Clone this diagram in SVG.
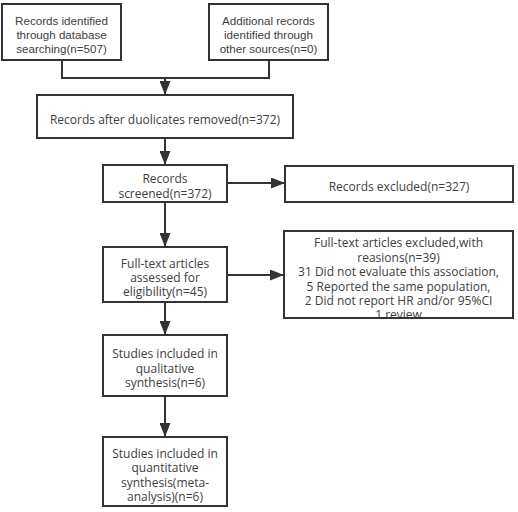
<svg xmlns="http://www.w3.org/2000/svg" width="518" height="512" viewBox="0 0 518 512">
<style>
.box{fill:#fff;stroke:#333;stroke-width:2}
.a{font-family:"Liberation Sans",Arial,sans-serif;font-size:11.6px;fill:#404040;text-anchor:middle}
.y{font-family:"Open Sans","Noto Sans",sans-serif;font-size:12px;fill:#404040;text-anchor:middle}
.c{fill:none;stroke:#333;stroke-width:2}
</style>
<defs>
<marker id="ah" markerUnits="userSpaceOnUse" markerWidth="14" markerHeight="11" refX="14" refY="5.5" orient="auto">
<path d="M0,0 L14,5.5 L0,11 z" fill="#333"/>
</marker>
</defs>
<rect width="518" height="512" fill="#fff"/>
<g id="connectors">
<polyline class="c" points="62,60 62,78 269,78 269,60"/>
<line class="c" x1="165" y1="78" x2="165" y2="95" marker-end="url(#ah)"/>
<line class="c" x1="165" y1="138" x2="165" y2="165" marker-end="url(#ah)"/>
<line class="c" x1="227" y1="183" x2="285" y2="183" marker-end="url(#ah)"/>
<line class="c" x1="165" y1="202" x2="165" y2="247" marker-end="url(#ah)"/>
<line class="c" x1="227" y1="275" x2="284" y2="275" marker-end="url(#ah)"/>
<line class="c" x1="165" y1="302" x2="165" y2="335" marker-end="url(#ah)"/>
<line class="c" x1="165" y1="396" x2="165" y2="437" marker-end="url(#ah)"/>
</g>
<g id="n1">
<rect class="box" x="2" y="4" width="119" height="56"/>
<text class="a" x="61.5" y="24.5">Records identified</text>
<text class="a" x="61.5" y="38.5">through database</text>
<text class="a" x="61.5" y="53">searching(n=507)</text>
</g>
<g id="n2">
<rect class="box" x="209" y="4" width="119" height="56"/>
<text class="a" x="268.5" y="24.5">Additional records</text>
<text class="a" x="268.5" y="38.5">identified through</text>
<text class="a" x="268.5" y="53">other sources(n=0)</text>
</g>
<g id="n3">
<rect class="box" x="37" y="95" width="256" height="43"/>
<text class="y" x="165" y="123.5">Records after duolicates removed(n=372)</text>
</g>
<g id="n4">
<rect class="box" x="103" y="165" width="124" height="37"/>
<text class="y" x="165" y="182.5">Records</text>
<text class="y" x="165" y="197.5">screened(n=372)</text>
</g>
<g id="n5">
<rect class="box" x="285" y="166" width="228" height="36"/>
<text class="y" x="399" y="190.5">Records excluded(n=327)</text>
</g>
<g id="n6">
<rect class="box" x="103" y="247" width="124" height="55"/>
<text class="y" x="165" y="267.5">Full-text articles</text>
<text class="y" x="165" y="281.5">assessed for</text>
<text class="y" x="165" y="295.5">eligibility(n=45)</text>
</g>
<g id="n7">
<rect class="box" x="284" y="231" width="229" height="87"/>
<text class="y" x="398.5" y="246.5">Full-text articles excluded,with</text>
<text class="y" x="398.5" y="261.5">reasions(n=39)</text>
<text class="y" x="398.5" y="275.5">31 Did not evaluate this association,</text>
<text class="y" x="398.5" y="290.5">5 Reported the same population,</text>
<text class="y" x="398.5" y="304.5">2 Did not report HR and/or 95%CI</text>
<text class="y" x="398.5" y="318.5">1 review</text>
<rect x="284" y="231" width="229" height="87" fill="none" stroke="#333" stroke-width="2"/>
</g>
<g id="n8">
<rect class="box" x="103" y="335" width="124" height="61"/>
<text class="y" x="165" y="357.5">Studies included in</text>
<text class="y" x="165" y="372.5">qualitative</text>
<text class="y" x="165" y="386.5">synthesis(n=6)</text>
</g>
<g id="n9">
<rect class="box" x="103" y="437" width="124" height="69"/>
<text class="y" x="165" y="457.5">Studies included in</text>
<text class="y" x="165" y="471.5">quantitative</text>
<text class="y" x="165" y="486.5">synthesis(meta-</text>
<text class="y" x="165" y="500.5">analysis)(n=6)</text>
</g>
</svg>
